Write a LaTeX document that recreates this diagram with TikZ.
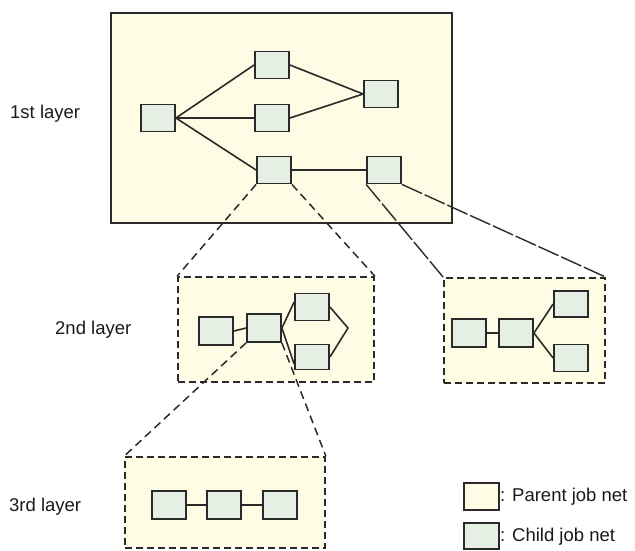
\documentclass[tikz,border=0pt]{standalone}
\usepackage{fontspec}
\setmainfont{Liberation Sans}
\definecolor{parentfill}{HTML}{FFFCE6}
\definecolor{childfill}{HTML}{E6EFE3}
\definecolor{edge}{HTML}{2A2A2A}
\begin{document}
\begin{tikzpicture}[x=1pt,y=-1pt,
  job/.style={draw=edge,fill=childfill,line width=1.8pt,inner sep=0pt,minimum width=34pt,minimum height=27pt},
  frame/.style={fill=parentfill,draw=edge,inner sep=0pt},
  solidframe/.style={frame,line width=2pt},
  dashframe/.style={frame,line width=1.7pt,dash pattern=on 7pt off 4pt},
  link/.style={draw=edge,line width=1.6pt},
  zoomline/.style={draw=edge,line width=1.5pt,dash pattern=on 8pt off 5pt},
  longzoom/.style={draw=edge,line width=1.4pt,dash pattern=on 22pt off 3pt},
  lab/.style={font=\fontsize{18.5}{22}\selectfont,text=black!90,inner sep=0pt}]
\useasboundingbox (0,0) rectangle (635,550);
% frames
\node[solidframe,minimum width=341pt,minimum height=210pt] (L1) at (281.5,118) {};
\node[dashframe,minimum width=196pt,minimum height=105pt] (L2) at (276,329.5) {};
\node[dashframe,minimum width=161pt,minimum height=105pt] (L3) at (524.5,330.5) {};
\node[dashframe,minimum width=200pt,minimum height=91pt] (L4) at (225,502.5) {};
% 1st layer
\node[job] (A) at (158,118) {};
\node[job] (B) at (272,65) {};
\node[job] (C) at (272,118) {};
\node[job] (D) at (381,94) {};
\node[job] (E) at (274,170) {};
\node[job] (F) at (384,170) {};
\draw[link] (A.east) -- (B.west);
\draw[link] (A.east) -- (C.west);
\draw[link] (A.east) -- (E.west);
\draw[link] (B.east) -- (D.west);
\draw[link] (C.east) -- (D.west);
\draw[link] (E.east) -- (F.west);
% 2nd layer left
\node[job,minimum height=28pt] (G1) at (216,331) {};
\node[job,minimum height=28pt] (G2) at (264,328) {};
\node[job,minimum height=27pt] (G3) at (312,307) {};
\node[job,minimum height=25pt] (G4) at (312,357) {};
\coordinate (G5) at (348,328);
\draw[link] (G1.east) -- (G2.west);
\draw[link] (G2.east) -- ([yshift=5pt]G3.west);
\draw[link] (G2.east) -- ([yshift=-7pt]G4.west);
\draw[link] (G3.east) -- (G5) -- (G4.east);
% 2nd layer right
\node[job,minimum height=28pt] (H1) at (469,333) {};
\node[job,minimum height=28pt] (H2) at (516,333) {};
\node[job,minimum height=26pt] (H3) at (571,304) {};
\node[job] (H4) at (571,358) {};
\draw[link] (H1.east) -- (H2.west);
\draw[link] (H2.east) -- (H3.west);
\draw[link] (H2.east) -- (H4.west);
% 3rd layer
\node[job,minimum height=28pt] (I1) at (169,505) {};
\node[job,minimum height=28pt] (I2) at (224,505) {};
\node[job,minimum height=28pt] (I3) at (280,505) {};
\draw[link] (I1.east) -- (I2.west);
\draw[link] (I2.east) -- (I3.west);
% zoom lines
\draw[zoomline] (E.south west) -- (L2.north west);
\draw[zoomline] (E.south east) -- (L2.north east);
\draw[longzoom] (F.south west) -- (L3.north west);
\draw[longzoom] (F.south east) -- (L3.north east);
\draw[zoomline] (G2.south west) -- (L4.north west);
\draw[zoomline] (G2.south east) -- (L4.north east);
% labels
\node[lab,anchor=west] (t1) at (10,114) {1st layer};
\node[lab,anchor=west] (t2) at (55,330) {2nd layer};
\node[lab,anchor=west] (t3) at (9,507) {3rd layer};
% legend
\node[frame,line width=1.8pt,minimum width=35pt,minimum height=27pt] (P) at (481.5,496.5) {};
\node[job,minimum width=35pt,minimum height=26pt] (Q) at (481.5,536) {};
\node[lab,anchor=west] (tp) at (500,497) {: Parent job net};
\node[lab,anchor=west] (tq) at (500,537) {: Child job net};
\end{tikzpicture}
\end{document}
